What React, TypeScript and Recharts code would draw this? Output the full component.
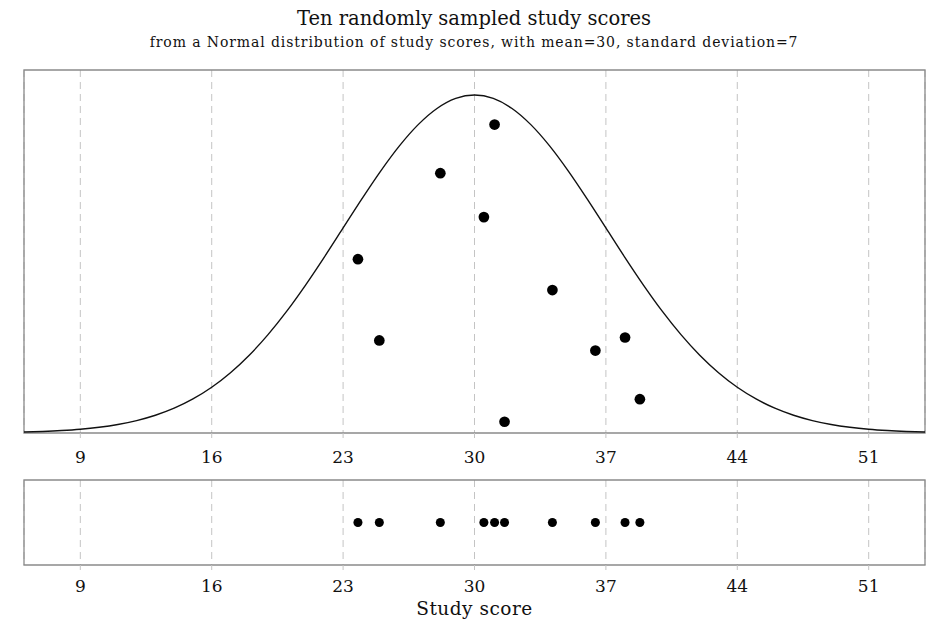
import React from "react";
import {
  ComposedChart,
  ScatterChart,
  Line,
  Scatter,
  XAxis,
  YAxis,
  ZAxis,
  CartesianGrid,
  ReferenceArea,
} from "recharts";

// Study scores (x) of the ten sampled points
const scores = [31.07, 28.18, 30.5, 23.79, 34.15, 24.93, 38.02, 36.44, 38.81, 31.6];
// Vertical (jittered) heights of the points in the upper panel, in density units
const heights = [0.0520, 0.0438, 0.0364, 0.0293, 0.0241, 0.0156, 0.0161, 0.0139, 0.0057, 0.0019];

// Normal density curve (mean 30, sd 7)
const curveX = [
  6, 7, 8, 9, 10, 11, 12, 13, 14, 15, 16, 17, 18, 19, 20, 21, 22, 23, 24, 25, 26, 27, 28, 29, 30,
  31, 32, 33, 34, 35, 36, 37, 38, 39, 40, 41, 42, 43, 44, 45, 46, 47, 48, 49, 50, 51, 52, 53, 54,
];
const curveY = [
  0.00016, 0.00026, 0.00041, 0.00063, 0.00096, 0.00143, 0.00209, 0.00299, 0.00418, 0.00574,
  0.00771, 0.01016, 0.01311, 0.01658, 0.02054, 0.02494, 0.02966, 0.03457, 0.03947, 0.04416,
  0.04841, 0.05199, 0.05471, 0.05641, 0.05699, 0.05641, 0.05471, 0.05199, 0.04841, 0.04416,
  0.03947, 0.03457, 0.02966, 0.02494, 0.02054, 0.01658, 0.01311, 0.01016, 0.00771, 0.00574,
  0.00418, 0.00299, 0.00209, 0.00143, 0.00096, 0.00063, 0.00041, 0.00026, 0.00016,
];

const xTicks = [9, 16, 23, 30, 37, 44, 51];
const title = "Ten randomly sampled study scores";
const subtitle = "from a Normal distribution of study scores, with mean=30, standard deviation=7";
const xLabel = "Study score";

const curveData = curveX.map((x, i) => ({ x, y: curveY[i] }));
const topPoints = scores.map((x, i) => ({ x, y: heights[i] }));
const stripPoints = scores.map((x) => ({ x, y: 0.5 }));

const FONT = "'DejaVu Serif', serif";
const X_DOMAIN: [number, number] = [6, 54];
const Y_MAX = 0.0612;

const tickStyle = { fontFamily: FONT, fontSize: 17, fill: "#111" };

export default function App() {
  return (
    <div style={{ position: "absolute", left: 0, top: 0, width: 930, height: 626, background: "#fff" }}>
      <div
        style={{
          position: "absolute",
          left: 0,
          top: 6,
          width: 948,
          textAlign: "center",
          fontFamily: FONT,
          fontSize: 19.5,
          color: "#111",
          lineHeight: "26px",
        }}
      >
        {title}
      </div>
      <div
        style={{
          position: "absolute",
          left: 0,
          top: 33,
          width: 948,
          textAlign: "center",
          fontFamily: FONT,
          fontSize: 14,
          letterSpacing: 0.9,
          color: "#111",
          lineHeight: "18px",
        }}
      >
        {subtitle}
      </div>

      <div style={{ position: "absolute", left: 0, top: 0 }}>
        <ComposedChart
          width={930}
          height={480}
          data={curveData}
          margin={{ top: 70, right: 5, bottom: 17, left: 24 }}
        >
          <CartesianGrid horizontal={false} stroke="#c4c4c4" strokeDasharray="7 5" />
          <XAxis
            type="number"
            dataKey="x"
            domain={X_DOMAIN}
            ticks={xTicks}
            allowDataOverflow
            axisLine={false}
            tickLine={{ stroke: "#c4c4c4" }}
            tickSize={5}
            tickMargin={13}
            height={30}
            tick={tickStyle}
          />
          <YAxis type="number" dataKey="y" domain={[0, Y_MAX]} hide allowDataOverflow />
          <ZAxis range={[90, 90]} />
          <ReferenceArea
            x1={X_DOMAIN[0]}
            x2={X_DOMAIN[1]}
            y1={0}
            y2={Y_MAX}
            fill="none"
            stroke="#8a8a8a"
            strokeWidth={1.3}
            ifOverflow="visible"
          />
          <Line
            type="monotone"
            dataKey="y"
            stroke="#111"
            strokeWidth={1.4}
            dot={false}
            isAnimationActive={false}
          />
          <Scatter data={topPoints} fill="#000" isAnimationActive={false} />
        </ComposedChart>
      </div>

      <div style={{ position: "absolute", left: 0, top: 470 }}>
        <ScatterChart width={930} height={156} margin={{ top: 10, right: 5, bottom: 3, left: 24 }}>
          <CartesianGrid horizontal={false} stroke="#c4c4c4" strokeDasharray="7 5" />
          <XAxis
            type="number"
            dataKey="x"
            domain={X_DOMAIN}
            ticks={xTicks}
            allowDataOverflow
            axisLine={false}
            tickLine={{ stroke: "#c4c4c4" }}
            tickSize={5}
            tickMargin={10}
            height={58}
            tick={tickStyle}
            label={{
              value: xLabel,
              position: "insideBottom",
              offset: 8,
              style: { fontFamily: FONT, fontSize: 18.5, fill: "#111", letterSpacing: 0.5 },
            }}
          />
          <YAxis type="number" dataKey="y" domain={[0, 1]} hide />
          <ZAxis range={[90, 90]} />
          <ReferenceArea
            x1={X_DOMAIN[0]}
            x2={X_DOMAIN[1]}
            y1={0}
            y2={1}
            fill="none"
            stroke="#8a8a8a"
            strokeWidth={1.3}
            ifOverflow="visible"
          />
          <Scatter data={stripPoints} fill="#000" isAnimationActive={false} />
        </ScatterChart>
      </div>
    </div>
  );
}
